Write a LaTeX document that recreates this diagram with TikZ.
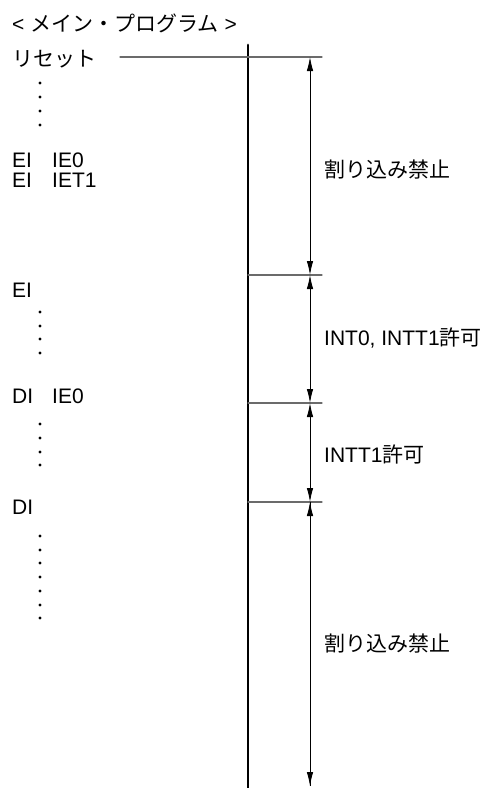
\documentclass[tikz,border=0pt]{standalone}
\usepackage{fontspec}
\setmainfont{Liberation Sans}
\newfontfamily\jp{Noto Sans CJK JP}
\usepackage{tkz-euclide}
\usetikzlibrary{arrows.meta,calc}
\definecolor{RuleClr}{gray}{0.42}

\tikzset{
  txt/.style={anchor=base west,inner sep=0pt,font=\fontsize{21}{24}\selectfont},
  dimarrow/.style={{Latex[length=14pt,width=6.5pt]}-{Latex[length=14pt,width=6.5pt]},line width=.9pt},
}

\begin{document}
\begin{tikzpicture}[x=1pt,y=-1pt]
\useasboundingbox (0,0) rectangle (483,788);
\tkzSetUpLine[line width=1pt,color=black]

\tkzDefPoints{248/45/Ttop,248/788/Tbot,120/57/R0,322/57/R1}
\tkzDefPoints{248/275/S0,322/275/S1,248/403/U0,322/403/U1,248/502/V0,322/502/V1}
\tkzDefPoints{310/57/A0,310/275/A1,310/403/A2,310/502/A3,310/786/A4}

% program text
\node[txt] (title) at (12,31) {< {\jp メイン・プログラム} >};
\node[txt] (reset) at (12,66) {\jp リセット};
\node[txt] (ei1) at (12,167) {EI};
\node[txt] (ie1) at (52,167) {IE0};
\node[txt] (ei2) at (12,187) {EI};
\node[txt] (iet1) at (52,187) {IET1};
\node[txt] (ei3) at (12,297) {EI};
\node[txt] (di1) at (12,403) {DI};
\node[txt] (ie2) at (52,403) {IE0};
\node[txt] (di2) at (12,514) {DI};

\foreach \y in {83,97,111,125,312,326,339,353,424,438,452,465,536,550,563,577,591,605,618}
  \fill (40,\y) circle (1.7);

% time line and marks
\tkzDrawSegment[line width=2.8pt](Ttop,Tbot)
\tkzDrawSegments[RuleClr,line width=1.1pt](R0,R1 S0,S1 U0,U1 V0,V1)
\tkzDrawSegments[dimarrow](A0,A1 A1,A2 A2,A3)
\draw[-{Latex[length=14pt,width=6.5pt]},line width=.9pt] (A3) -- (A4);
\draw[-{Latex[length=14pt,width=6.5pt]},line width=.9pt] (A4) -- (A3);

% states
\node[txt] (off1) at (324,177) {\jp 割り込み禁止};
\node[txt] (on2) at (324,345) {INT0, INTT1{\jp 許可}};
\node[txt] (on1) at (324,462) {INTT1{\jp 許可}};
\node[txt] (off2) at (324,651) {\jp 割り込み禁止};

\end{tikzpicture}
\end{document}
